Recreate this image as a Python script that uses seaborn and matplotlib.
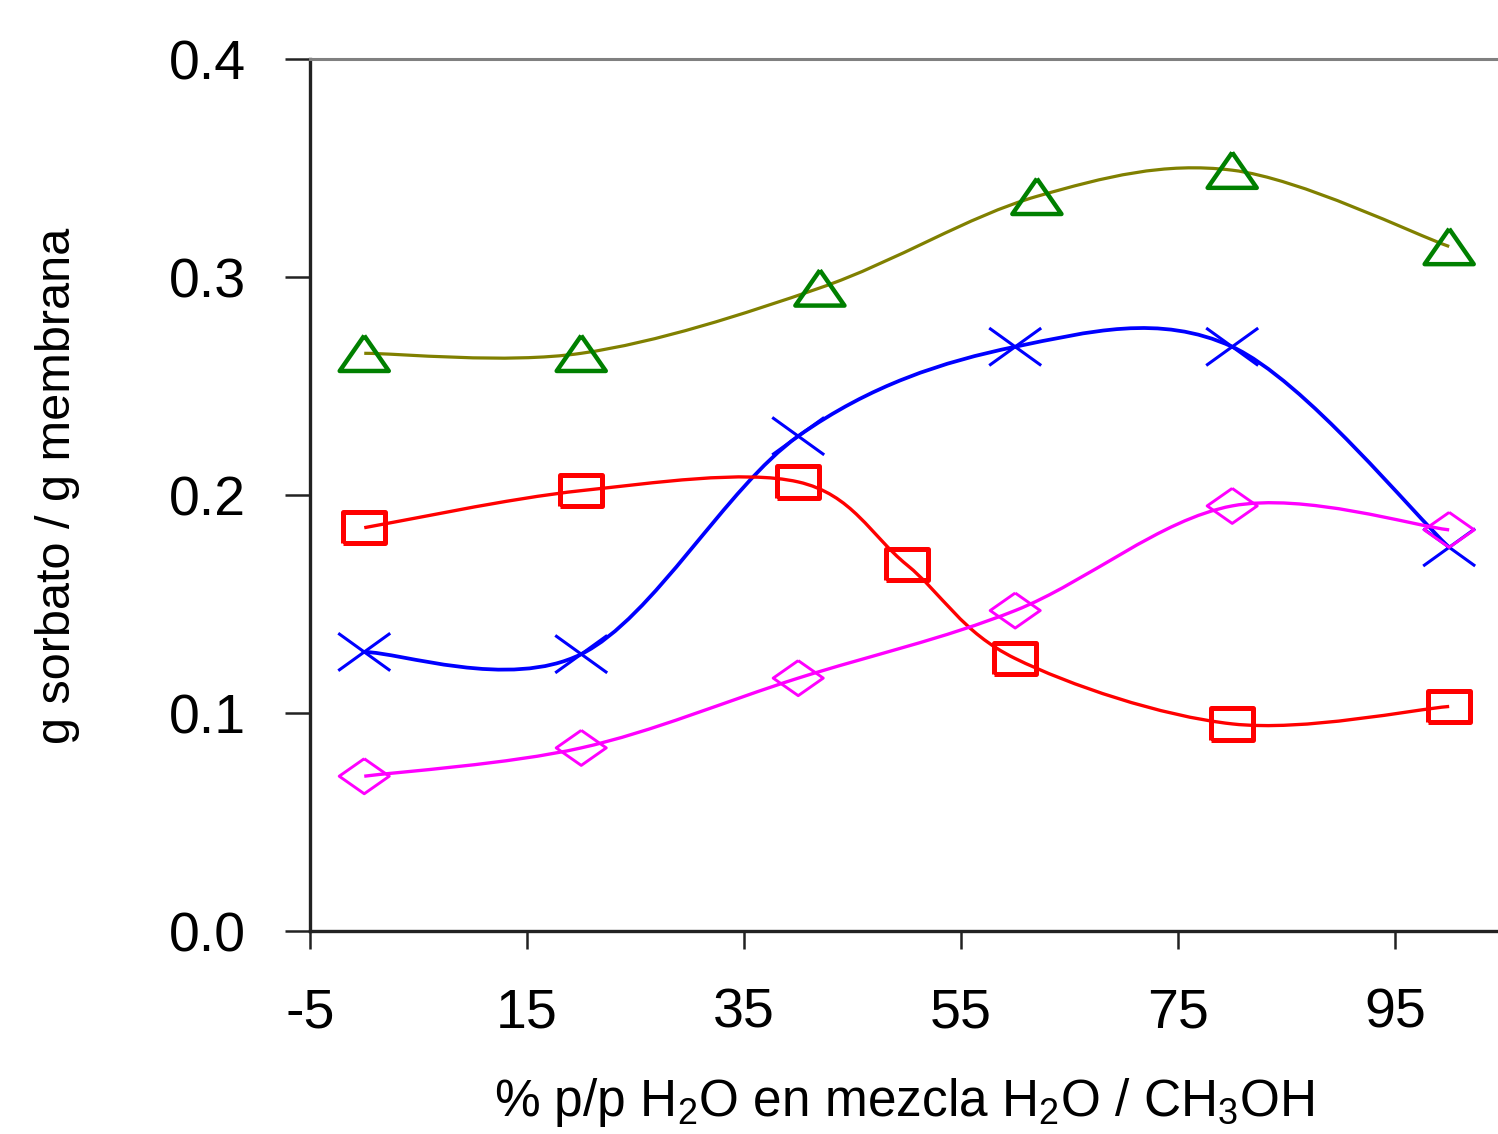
import numpy as np
import matplotlib
matplotlib.use("Agg")
import matplotlib.pyplot as plt
from matplotlib.path import Path
from matplotlib.patches import PathPatch
import seaborn as sns

sns.set_theme(style="white")
plt.rcParams["font.family"] = ["Liberation Sans", "DejaVu Sans"]
plt.rcParams["mathtext.fontset"] = "custom"
plt.rcParams["mathtext.rm"] = "Liberation Sans"
plt.rcParams["axes.unicode_minus"] = False

# data (x = % p/p H2O, y = g sorbato / g membrana)
x_tri = [0, 20, 42, 62, 80, 100]
y_tri = [0.265, 0.265, 0.295, 0.337, 0.349, 0.314]

x_cross = [0, 20, 40, 60, 80, 100]
y_cross = [0.128, 0.127, 0.227, 0.268, 0.268, 0.176]

x_sq = [0, 20, 40, 50, 60, 80, 100]
y_sq = [0.185, 0.202, 0.206, 0.168, 0.125, 0.095, 0.103]

x_dia = [0, 20, 40, 60, 80, 100]
y_dia = [0.071, 0.084, 0.116, 0.147, 0.195, 0.184]

xticks = [-5, 15, 35, 55, 75, 95]
yticks = [0.0, 0.1, 0.2, 0.3, 0.4]


def smooth_path(xs, ys):
    # Excel-like smoothed line: bezier segments through the points
    p = np.column_stack([xs, ys]).astype(float)
    n = len(p)
    verts = [p[0]]
    codes = [Path.MOVETO]
    for i in range(n - 1):
        p0 = p[i - 1] if i > 0 else p[i]
        p3 = p[i + 2] if i + 2 < n else p[i + 1]
        c1 = p[i] + (p[i + 1] - p0) / 6
        c2 = p[i + 1] - (p3 - p[i]) / 6
        verts += [c1, c2, p[i + 1]]
        codes += [Path.CURVE4] * 3
    return Path(verts, codes)


tri = [(0, 0.72), (-1, -0.72), (1, -0.72), (0, 0.72)]
square = [(-1, -0.74), (1, -0.74), (1, 0.74), (-1, 0.74), (-1, -0.74)]
diamond = [(0, 0.7), (1, 0), (0, -0.7), (-1, 0), (0, 0.7)]
cross = Path([(-1, -0.72), (1, 0.72), (-1, 0.72), (1, -0.72)],
             [Path.MOVETO, Path.LINETO, Path.MOVETO, Path.LINETO])

fig = plt.figure(figsize=(14.98, 11.34), dpi=100)
ax = fig.add_axes([310 / 1498, 203 / 1134, 1 - 310 / 1498, 872 / 1134])

series = [
    (x_tri, y_tri, "#808000", "#008000", tri, 1250, 3.2, 2.3),
    (x_cross, y_cross, "#0000ff", "#0000ff", cross, 1400, 2.2, 2.7),
    (x_sq, y_sq, "#ff0000", "#ff0000", square, 930, 3.6, 2.4),
    (x_dia, y_dia, "#ff00ff", "#ff00ff", diamond, 1300, 2.1, 2.4),
]
for xs, ys, lc, mc, mk, s, mlw, llw in series:
    ax.add_patch(PathPatch(smooth_path(xs, ys), facecolor="none",
                           edgecolor=lc, lw=llw, zorder=2))
    sns.scatterplot(x=xs, y=ys, marker=mk, s=s, facecolor="none",
                    edgecolor=mc, linewidth=mlw, ax=ax, zorder=3,
                    clip_on=False)

ax.set_xlim(-5, 104.5)
ax.set_ylim(0, 0.4)
ax.set_xticks(xticks)
ax.set_yticks(yticks)
ax.set_yticklabels([f"{v:.1f}" for v in yticks])

for side in ["left", "bottom"]:
    ax.spines[side].set_color("#222222")
    ax.spines[side].set_linewidth(2.4)
ax.spines["top"].set_color("#808080")
ax.spines["top"].set_linewidth(2.2)
ax.spines["right"].set_visible(False)

ax.tick_params(axis="y", direction="out", length=18, width=1.8,
               color="#222222", labelsize=40, pad=28, labelcolor="black")
ax.tick_params(axis="x", direction="out", length=13, width=1.8,
               color="#222222", labelsize=40, pad=28, labelcolor="black")
ax.tick_params(left=True, bottom=True)

ax.set_ylabel("g sorbato / g membrana", fontsize=35, color="black")
ax.yaxis.set_label_coords(-0.194, 0.511)
ax.set_xlabel(r"% p/p H$_\mathregular{2}$O en mezcla H$_\mathregular{2}$O / CH$_\mathregular{3}$OH",
              fontsize=37, color="black")
ax.xaxis.set_label_coords(0.5, -0.166)

fig.savefig("out.png", dpi=100)
